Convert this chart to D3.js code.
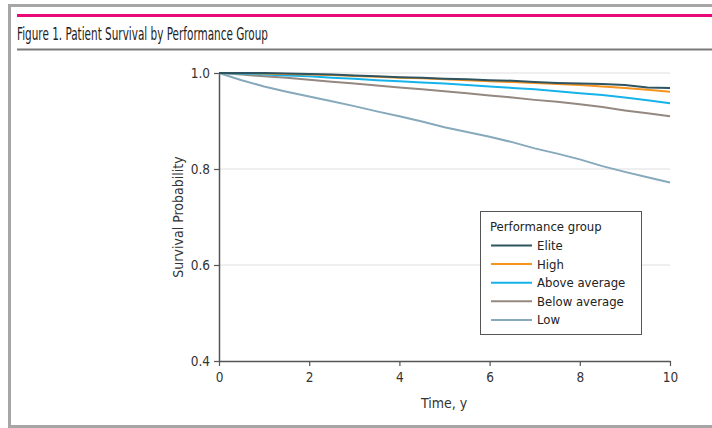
<!DOCTYPE html>
<html><head><meta charset="utf-8">
<script src="https://cdn.jsdelivr.net/npm/d3@7"></script>
<style>
html,body{margin:0;padding:0;background:#fff;}
svg{display:block;}
text{font-family:"Liberation Sans Narrow","DejaVu Sans Condensed","Roboto",sans-serif;}
</style></head>
<body>
<svg id="c" width="712" height="428"></svg>
<script>
const title = "Figure 1. Patient Survival by Performance Group";
const xLabel = "Time, y";
const yLabel = "Survival Probability";
const legendTitle = "Performance group";
const times = [0,0.5,1,1.5,2,2.5,3,3.5,4,4.5,5,5.5,6,6.5,7,7.5,8,8.5,9,9.5,10];
const groups = ["Elite","High","Above average","Below average","Low"];
const colors = ["#2f5461","#f7941d","#16b3ea","#948880","#86a9bb"];
const elite = [1.0,1.0,1.0,0.999,0.998,0.997,0.995,0.993,0.991,0.990,0.988,0.987,0.985,0.984,0.981,0.979,0.978,0.977,0.975,0.970,0.969];
const high = [1.0,1.0,0.999,0.998,0.997,0.996,0.994,0.992,0.990,0.989,0.987,0.985,0.983,0.981,0.979,0.977,0.975,0.972,0.969,0.965,0.961];
const aboveAvg = [1.0,0.999,0.997,0.995,0.993,0.990,0.988,0.985,0.983,0.980,0.978,0.975,0.972,0.969,0.966,0.962,0.958,0.954,0.949,0.943,0.937];
const belowAvg = [1.0,0.997,0.993,0.990,0.986,0.982,0.978,0.974,0.970,0.966,0.962,0.958,0.953,0.949,0.944,0.940,0.935,0.929,0.922,0.916,0.910];
const low = [1.0,0.985,0.972,0.961,0.951,0.941,0.931,0.920,0.910,0.899,0.887,0.877,0.867,0.856,0.843,0.832,0.820,0.806,0.794,0.783,0.772];
const series = [elite, high, aboveAvg, belowAvg, low];
const xTicks = [0,2,4,6,8,10];
const yTicks = [0.4,0.6,0.8,1.0];

const svg = d3.select("#c");
// frame
svg.append("path").attr("d","M712,5.5 H9.5 V426.5 H712").attr("fill","none").attr("stroke","#a6a6a6").attr("stroke-width",3);
svg.append("line").attr("x1",17).attr("x2",712).attr("y1",15.5).attr("y2",15.5).attr("stroke","#e8087a").attr("stroke-width",3);
svg.append("text").attr("x",17).attr("y",39.5).attr("font-size",18.5).attr("fill","#222")
  .attr("textLength",251).attr("lengthAdjust","spacingAndGlyphs").text(title);
svg.append("line").attr("x1",17).attr("x2",712).attr("y1",49.5).attr("y2",49.5).attr("stroke","#7a7a7a").attr("stroke-width",2);

const x = d3.scaleLinear().domain([0,10]).range([219,670]);
const y = d3.scaleLinear().domain([0.4,1.0]).range([361,73]);

// grid
svg.append("g").selectAll("line").data(yTicks.filter(d=>d>0.4)).join("line")
  .attr("x1",x(0)).attr("x2",x(10)).attr("y1",d=>y(d)).attr("y2",d=>y(d))
  .attr("stroke","#e0e0e0").attr("stroke-width",1.2);

// axes
const xa = svg.append("g").attr("transform",`translate(0,${y(0.4)})`)
  .call(d3.axisBottom(x).tickValues(xTicks).tickFormat(d3.format("d")).tickSize(5).tickSizeOuter(0));
const ya = svg.append("g").attr("transform",`translate(${x(0)},0)`)
  .call(d3.axisLeft(y).tickValues(yTicks).tickFormat(d3.format(".1f")).tickSize(5).tickSizeOuter(0));
[xa,ya].forEach(a=>{
  a.select(".domain").attr("stroke","#555").attr("stroke-width",1.5);
  a.selectAll(".tick line").attr("stroke","#555").attr("stroke-width",1.2);
  a.selectAll(".tick text").attr("fill","#333").attr("font-size",13.5)
   .attr("font-family",'"Liberation Sans Narrow","DejaVu Sans Condensed",sans-serif');
});
xa.selectAll(".tick text").attr("dy","0.95em");
ya.selectAll(".tick text").attr("dx","-1px");

svg.append("text").attr("x",444).attr("y",408).attr("text-anchor","middle").attr("font-size",14).attr("fill","#333").text(xLabel);
svg.append("text").attr("transform","translate(183,217) rotate(-90)").attr("text-anchor","middle").attr("font-size",14).attr("fill","#333").text(yLabel);

// lines
const line = d3.line().x((d,i)=>x(times[i])).y(d=>y(d));
const order = [4,3,2,1,0];
svg.append("g").selectAll("path").data(order).join("path")
  .attr("d",i=>line(series[i])).attr("fill","none").attr("stroke",i=>colors[i]).attr("stroke-width",2);

// legend
const lg = svg.append("g");
lg.append("rect").attr("x",480.5).attr("y",211.5).attr("width",161).attr("height",123).attr("fill","#fff").attr("stroke","#555").attr("stroke-width",1);
lg.append("text").attr("x",490).attr("y",231).attr("font-size",13).attr("fill","#222").text(legendTitle);
const items = lg.selectAll("g.it").data(groups).join("g").attr("class","it")
  .attr("transform",(d,i)=>`translate(0,${245.5+i*18.6})`);
items.append("line").attr("x1",491).attr("x2",532).attr("stroke",(d,i)=>colors[i]).attr("stroke-width",2);
items.append("text").attr("x",537).attr("y",4.5).attr("font-size",13).attr("fill","#222").text(d=>d);
</script>
</body></html>
